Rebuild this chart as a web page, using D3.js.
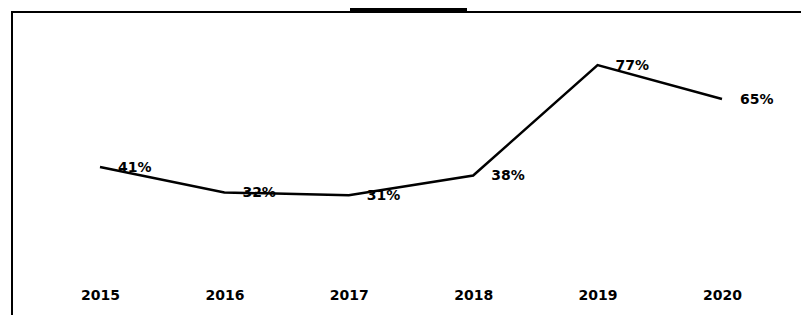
<!DOCTYPE html>
<html>
<head>
<meta charset="utf-8">
<script src="https://cdn.jsdelivr.net/npm/d3@7"></script>
<style>
  body { margin: 0; background: #fff; }
  .pathline { fill: none; stroke: #000; stroke-width: 2.5; }
  .lbl { font-family: "DejaVu Sans", sans-serif; font-weight: bold; font-size: 14px; fill: #000; }
</style>
</head>
<body>
<div id="chart"></div>
<script>
var years  = ['2015', '2016', '2017', '2018', '2019', '2020'];
var values = [41, 32, 31, 38, 77, 65];
var yDomain = [0, 100];

function drawChart()
{
	var width  = 801;
	var height = 315;
	var data = years.map(function(y, i) { return { year: y, v: values[i] }; });

	var svg = d3.select("#chart").append("svg").attr("width", width).attr("height", height);

	// frame, runs off the right and bottom edges
	svg.append("rect").
	attr("x", 12).attr("y", 12).
	attr("width", 820).attr("height", 330).
	attr("fill", "none").attr("stroke", "#000").attr("stroke-width", 2);

	// legend key at the top edge
	svg.append("line").
	attr("x1", 350).attr("x2", 467).
	attr("y1", 10).attr("y2", 10).
	attr("stroke", "#000").attr("stroke-width", 4);

	var x = d3.scalePoint().domain(years).range([100, 722]);
	var y = d3.scaleLinear().domain(yDomain).range([283, 0]);

	// year labels
	var axis = d3.axisBottom(x).tickSize(0).tickPadding(0);
	var g = svg.append("g").attr("transform", "translate(0,290)").call(axis);
	g.select(".domain").remove();
	g.selectAll("text").attr("class", "lbl").attr("fill", null);

	var line = d3.line().
	x(function(d) { return x(d.year); }).
	y(function(d) { return y(d.v); });

	svg.append("path").data([data]).
	attr("class", "pathline").
	attr("d", line);

	// value labels to the right of each point
	svg.selectAll(".val").data(data).enter().append("text").
	attr("class", "lbl val").
	attr("x", function(d) { return x(d.year) + 18; }).
	attr("y", function(d) { return y(d.v); }).
	attr("dy", "0.35em").
	text(function(d) { return d.v + "%"; });
}
drawChart();
</script>
</body>
</html>
